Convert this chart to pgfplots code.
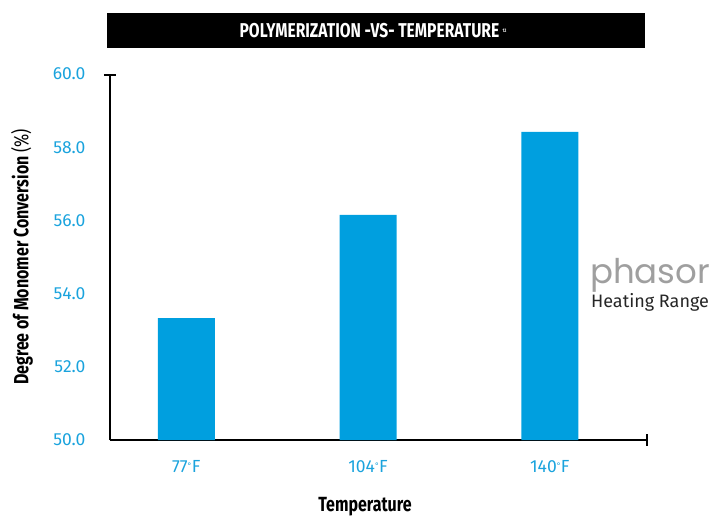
\documentclass[border=0pt]{standalone}
\usepackage{fontspec}
\setmainfont{Fira Sans}
\newfontfamily\cond[FakeStretch=0.78]{Fira Sans}
\newfontfamily\pop{Poppins}
\usepackage{pgfplots}
\pgfplotsset{compat=1.18}
\usetikzlibrary{arrows.meta}
\definecolor{barblue}{HTML}{009FDF}
\definecolor{tickblue}{HTML}{1AA3DD}
\newcommand{\dg}{\raisebox{4pt}{\fontsize{8}{8}\selectfont °}}
\begin{document}
\begin{tikzpicture}
\useasboundingbox (0pt,0pt) rectangle (728pt,517pt);
\fill[black] (107pt,469pt) rectangle (645pt,504pt);
\node[text=white, font={\cond\bfseries\fontsize{20}{22}\selectfont}] at (373pt,486.5pt) {POLYMERIZATION -VS- TEMPERATURE\,\raisebox{5pt}{\fontsize{5}{6}\selectfont 12}};
\begin{axis}[
  at={(110pt,77pt)}, anchor=south west,
  scale only axis, width=538pt, height=366pt,
  axis lines*=left,
  x axis line style={line width=1.6pt, -{Bar[width=12pt,line width=1.6pt]}},
  y axis line style={line width=1.6pt, -{Bar[width=12pt,line width=1.6pt]}},
  xmin=-0.42, xmax=2.54, ymin=50, ymax=60,
  xtick={0,1,2}, xticklabels={77\dg F,104\dg F,140\dg F},
  ytick={50,52,54,56,58,60},
  major tick length=0pt,
  yticklabel={\pgfmathprintnumber[fixed,fixed zerofill,precision=1]{\tick}},
  /pgf/number format/assume math mode=true,
  ticklabel style={text=tickblue, font=\fontsize{17.5}{20}\selectfont},
  yticklabel style={xshift=-21pt},
  xticklabel style={yshift=-17pt},
  xlabel={Temperature},
  ylabel={Degree of Monomer Conversion {\mdseries(\%)}},
  label style={font=\cond\bfseries\fontsize{20.5}{22}\selectfont, text=black},
  xlabel style={at={(axis description cs:0.474,-0.183)}, anchor=center},
  ylabel style={at={(axis description cs:-0.1636,0.5)}, anchor=center},
  clip=false,
]
\addplot[ybar, bar width=57pt, fill=barblue, draw=none] coordinates {(0,53.33) (1,56.15) (2,58.42)};
\end{axis}
\node[text=gray!75, font={\pop\fontsize{34}{36}\selectfont}] at (650pt,242pt) {phasor};
\node[text=black!85, font={\fontsize{18}{20}\selectfont}] at (650pt,215pt) {Heating Range};
\end{tikzpicture}
\end{document}
